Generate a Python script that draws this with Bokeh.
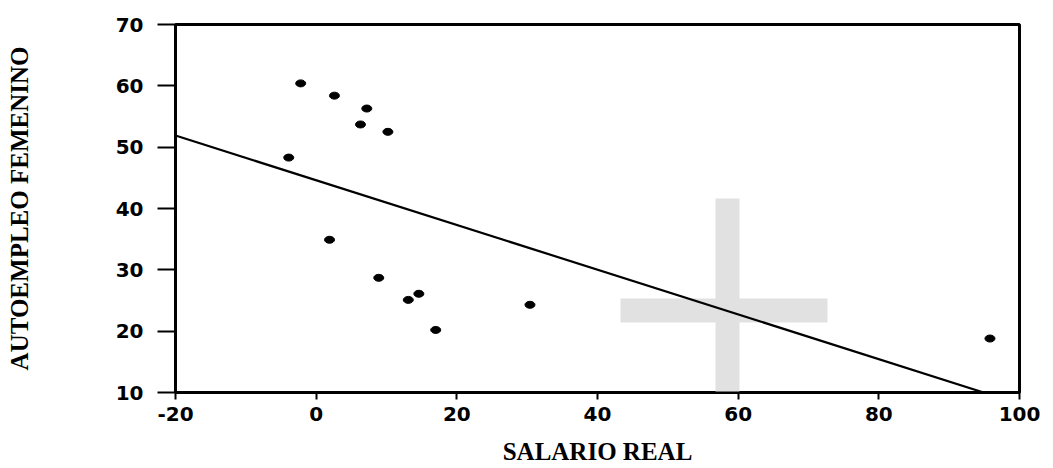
from bokeh.plotting import figure
from bokeh.models import Range1d, FixedTicker, BoxAnnotation
from bokeh.embed import file_html
from bokeh.resources import INLINE

# Data
salario_real = [-2.2, 2.6, 7.2, 6.3, 10.2, -3.9, 1.9, 8.9, 13.1, 14.6, 17.0, 30.4, 95.8]
autoempleo_fem = [60.4, 58.4, 56.3, 53.7, 52.5, 48.3, 34.9, 28.7, 25.1, 26.1, 20.2, 24.3, 18.8]
fit_x = [-20, 94.9]
fit_y = [51.9, 10.0]
x_ticks = [-20, 0, 20, 40, 60, 80, 100]
y_ticks = [10, 20, 30, 40, 50, 60, 70]

p = figure(width=1053, height=468, output_backend="svg", toolbar_location=None,
           x_range=Range1d(-20, 100), y_range=Range1d(10, 70),
           min_border_left=175, min_border_right=34, min_border_top=24, min_border_bottom=76)
p.background_fill_color = "white"
p.border_fill_color = "white"
p.xgrid.visible = False
p.ygrid.visible = False
p.outline_line_color = "black"
p.outline_line_width = 3

# watermark (decorative, canvas units)
wm = "#e1e1e1"
for l, r, t, b in [(715, 739, 198, 468), (620, 827, 298, 322)]:
    p.add_layout(BoxAnnotation(left=l, right=r, top=t, bottom=b,
                               left_units="canvas", right_units="canvas",
                               top_units="canvas", bottom_units="canvas",
                               fill_color=wm, fill_alpha=1.0, line_alpha=0, level="underlay"))

p.line(fit_x, fit_y, line_color="black", line_width=2.2)
p.ellipse(salario_real, autoempleo_fem, width=10, height=7,
          width_units="screen", height_units="screen", fill_color="black", line_color="black")

for ax in (p.xaxis[0], p.yaxis[0]):
    ax.major_label_text_font = "DejaVu Sans"
    ax.major_label_text_font_style = "bold"
    ax.major_label_text_font_size = "20px"
    ax.major_label_text_color = "black"
    ax.minor_tick_line_color = None
    ax.major_tick_in = 0
    ax.major_tick_line_color = "black"
    ax.axis_line_color = "black"
    ax.axis_label_text_font = "Liberation Serif"
    ax.axis_label_text_font_style = "bold"
    ax.axis_label_text_font_size = "25px"
    ax.axis_label_text_color = "black"

p.xaxis.ticker = FixedTicker(ticks=x_ticks)
p.yaxis.ticker = FixedTicker(ticks=y_ticks)
p.xaxis.major_label_overrides = {-20: "-20"}
p.xaxis.axis_label = "SALARIO REAL"
p.yaxis.axis_label = "AUTOEMPLEO FEMENINO"
p.xaxis.major_tick_out = 7
p.xaxis.major_tick_line_width = 2
p.xaxis.axis_line_width = 2
p.xaxis.major_label_standoff = 7
p.xaxis.axis_label_standoff = 14
p.yaxis.major_tick_out = 18
p.yaxis.major_tick_line_width = 2
p.yaxis.axis_line_width = 3
p.yaxis.major_label_standoff = 14
p.yaxis.axis_label_standoff = 80

open("out.html", "w").write(file_html(p, INLINE))
